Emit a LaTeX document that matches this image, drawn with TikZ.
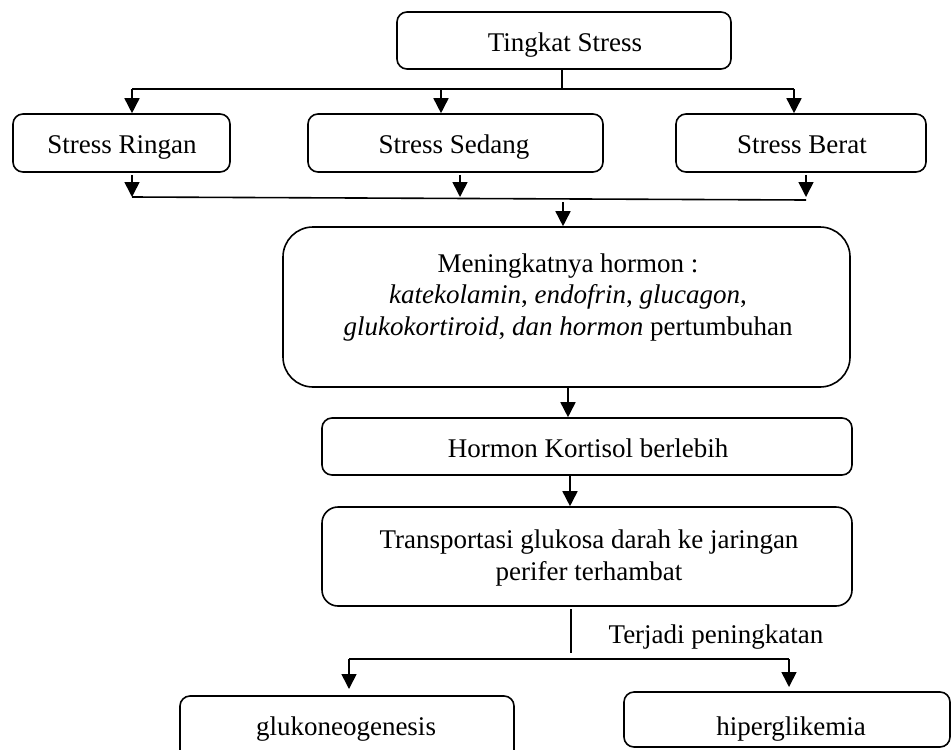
\documentclass[tikz,border=0pt]{standalone}
\usepackage{fontspec}
\setmainfont{Liberation Serif}
\usetikzlibrary{arrows.meta}
\begin{document}
\begin{tikzpicture}[x=0.5pt,y=-0.5pt,
  box/.style={draw, line width=0.8pt, rounded corners=5pt, inner sep=0pt},
  txt/.style={font=\fontsize{13.5}{15.75}\selectfont, inner sep=0pt, anchor=base, align=center},
  ln/.style={line width=0.8pt},
  arr/.style={line width=0.8pt, -{Triangle[width=7.5pt,length=7.5pt]}}]
\useasboundingbox (0,0) rectangle (951,749);
\clip (0,0) rectangle (951,749);
% boxes
\node[box, minimum width=167pt, minimum height=28.5pt] (ts) at (564,40.5) {};
\node[box, minimum width=108.5pt, minimum height=29pt] (sr) at (121.5,143) {};
\node[box, minimum width=147.5pt, minimum height=29pt] (ss) at (455.5,143) {};
\node[box, minimum width=125pt, minimum height=29pt] (sb) at (801,143) {};
\node[box, rounded corners=15pt, minimum width=283.5pt, minimum height=80pt] (m) at (566.5,307) {};
\node[box, minimum width=265pt, minimum height=28.5pt] (hk) at (587,446.5) {};
\node[box, rounded corners=8pt, minimum width=265pt, minimum height=49.5pt] (tg) at (587,556.5) {};
\node[box, minimum width=167pt, minimum height=32pt] (gl) at (347,728) {};
\node[box, minimum width=163pt, minimum height=27.5pt] (hg) at (787,719.5) {};
% texts
\node[txt] (tst) at (565,52) {Tingkat Stress};
\node[txt] (srt) at (122,153) {Stress Ringan};
\node[txt] (sst) at (454,153) {Stress Sedang};
\node[txt] (sbt) at (802,153) {Stress Berat};
\node[txt] (mt) at (568,335) {Meningkatnya hormon :\\ \textit{katekolamin}, \textit{endofrin}, \textit{glucagon},\\ \textit{glukokortiroid}, \textit{dan hormon} pertumbuhan};
\node[txt] (hkt) at (588,457) {Hormon Kortisol berlebih};
\node[txt, font=\fontsize{13.5}{16}\selectfont] (tgt) at (589,580) {Transportasi glukosa darah ke jaringan\\ perifer terhambat};
\node[txt] (lbl) at (716,643) {Terjadi peningkatan};
\node[txt] (glt) at (346,735) {glukoneogenesis};
\node[txt] (hgt) at (791,735) {hiperglikemia};
% top distribution
\coordinate (tj) at (562,89);
\coordinate (tl) at (132,89);
\coordinate (tm) at (441,89);
\coordinate (tr) at (794,89);
\draw[ln] (ts.south -| tj) -- (tj);
\draw[ln] (tl) -- (tr);
\draw[arr] (tl) -- (tl |- sr.north);
\draw[arr] (tm) -- (tm |- ss.north);
\draw[arr] (tr) -- (tr |- sb.north);
% merge
\coordinate (b1) at (132,197);
\coordinate (b2) at (460,197);
\coordinate (b3) at (806,197);
\coordinate (b3e) at (806,200);
\draw[arr] (sr.south -| b1) ++(0,2) -- (b1);
\draw[arr] (ss.south -| b2) ++(0,2) -- (b2);
\draw[arr] (sb.south -| b3) ++(0,2) -- (b3);
\draw[ln] (b1) -- (b3e);
\coordinate (mj) at (563,202);
\draw[arr] (mj) -- (mj |- m.north);
% chain
\coordinate (c1) at (568,0);
\coordinate (c2) at (570,0);
\draw[arr] (m.south -| c1) -- (hk.north -| c1);
\draw[arr] (hk.south -| c2) -- (tg.north -| c2);
% split
\coordinate (s1) at (571,609);
\coordinate (s2) at (571,653);
\draw[ln] (s1) -- (s2);
\coordinate (sl) at (349,659);
\coordinate (sr2) at (789,659);
\coordinate (gtip) at (349,689);
\coordinate (htip) at (789,687);
\draw[ln] (sl) -- (sr2);
\draw[arr] (sl) -- (gtip);
\draw[arr] (sr2) -- (htip);
\end{tikzpicture}
\end{document}
